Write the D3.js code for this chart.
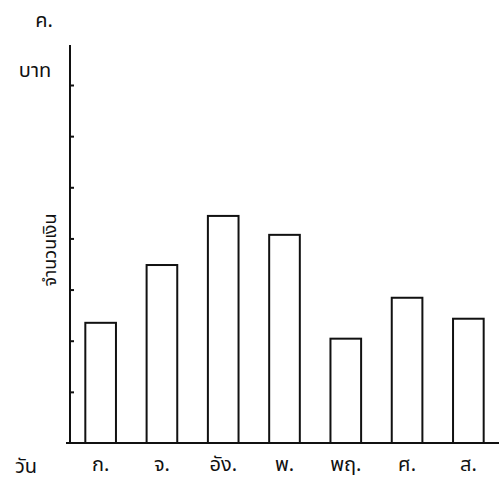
<!DOCTYPE html>
<html><head><meta charset="utf-8">
<script src="https://cdn.jsdelivr.net/npm/d3@7"></script>
<style>
html,body{margin:0;padding:0;background:#fff;}
text{font-family:"Noto Sans Thai","Noto Sans","DejaVu Sans",sans-serif;fill:#111;}
</style></head>
<body><svg id="c" width="499" height="483"></svg>
<script>
const categories = ["ก.", "จ.", "อัง.", "พ.", "พฤ.", "ศ.", "ส."];
const values = [2.35, 3.48, 4.44, 4.07, 2.04, 2.84, 2.43];
const yTicks = [1, 2, 3, 4, 5, 6, 7];
const xTitle = "วัน";
const yTitle = "จำนวนเงิน";
const unitTop = "ค.";
const unitBottom = "บาท";

const svg = d3.select("#c");
const x = d3.scaleBand().domain(categories).range([70, 499]).paddingInner(0.5).paddingOuter(0.25);
const y = d3.scaleLinear().domain([0, 7]).range([443, 85]);

// bars
svg.append("g").selectAll("rect").data(categories).join("rect")
  .attr("x", d => x(d))
  .attr("y", (d, i) => y(values[i]))
  .attr("width", x.bandwidth())
  .attr("height", (d, i) => y(0) - y(values[i]))
  .attr("fill", "none").attr("stroke", "#111").attr("stroke-width", 2);

// y axis with ticks on the right
const yAxis = d3.axisRight(y).tickValues(yTicks).tickSize(4).tickFormat("");
const gy = svg.append("g").attr("transform", "translate(70,0)").call(yAxis);
gy.select(".domain").remove();
gy.selectAll("line").attr("stroke", "#111").attr("stroke-width", 2);
svg.append("line").attr("x1", 70).attr("x2", 70).attr("y1", 45).attr("y2", 444)
  .attr("stroke", "#111").attr("stroke-width", 2);

// x axis
const xAxis = d3.axisBottom(x).tickSize(0).tickPadding(10);
const gx = svg.append("g").attr("transform", "translate(0,443)").call(xAxis);
gx.select(".domain").remove();
gx.selectAll("text").attr("font-size", 20).attr("dy", "0.9em");
svg.append("line").attr("x1", 66).attr("x2", 499).attr("y1", 443).attr("y2", 443)
  .attr("stroke", "#111").attr("stroke-width", 2);

// titles
svg.append("text").attr("x", 26).attr("y", 473).attr("text-anchor", "middle")
  .attr("font-size", 20).text(xTitle);
svg.append("text").attr("transform", "translate(56,250) rotate(-90)")
  .attr("text-anchor", "middle").attr("font-size", 18).text(yTitle);
svg.append("text").attr("x", 44).attr("y", 27).attr("text-anchor", "middle")
  .attr("font-size", 20).text(unitTop);
svg.append("text").attr("x", 35).attr("y", 77).attr("text-anchor", "middle")
  .attr("font-size", 20).text(unitBottom);
</script></body></html>
